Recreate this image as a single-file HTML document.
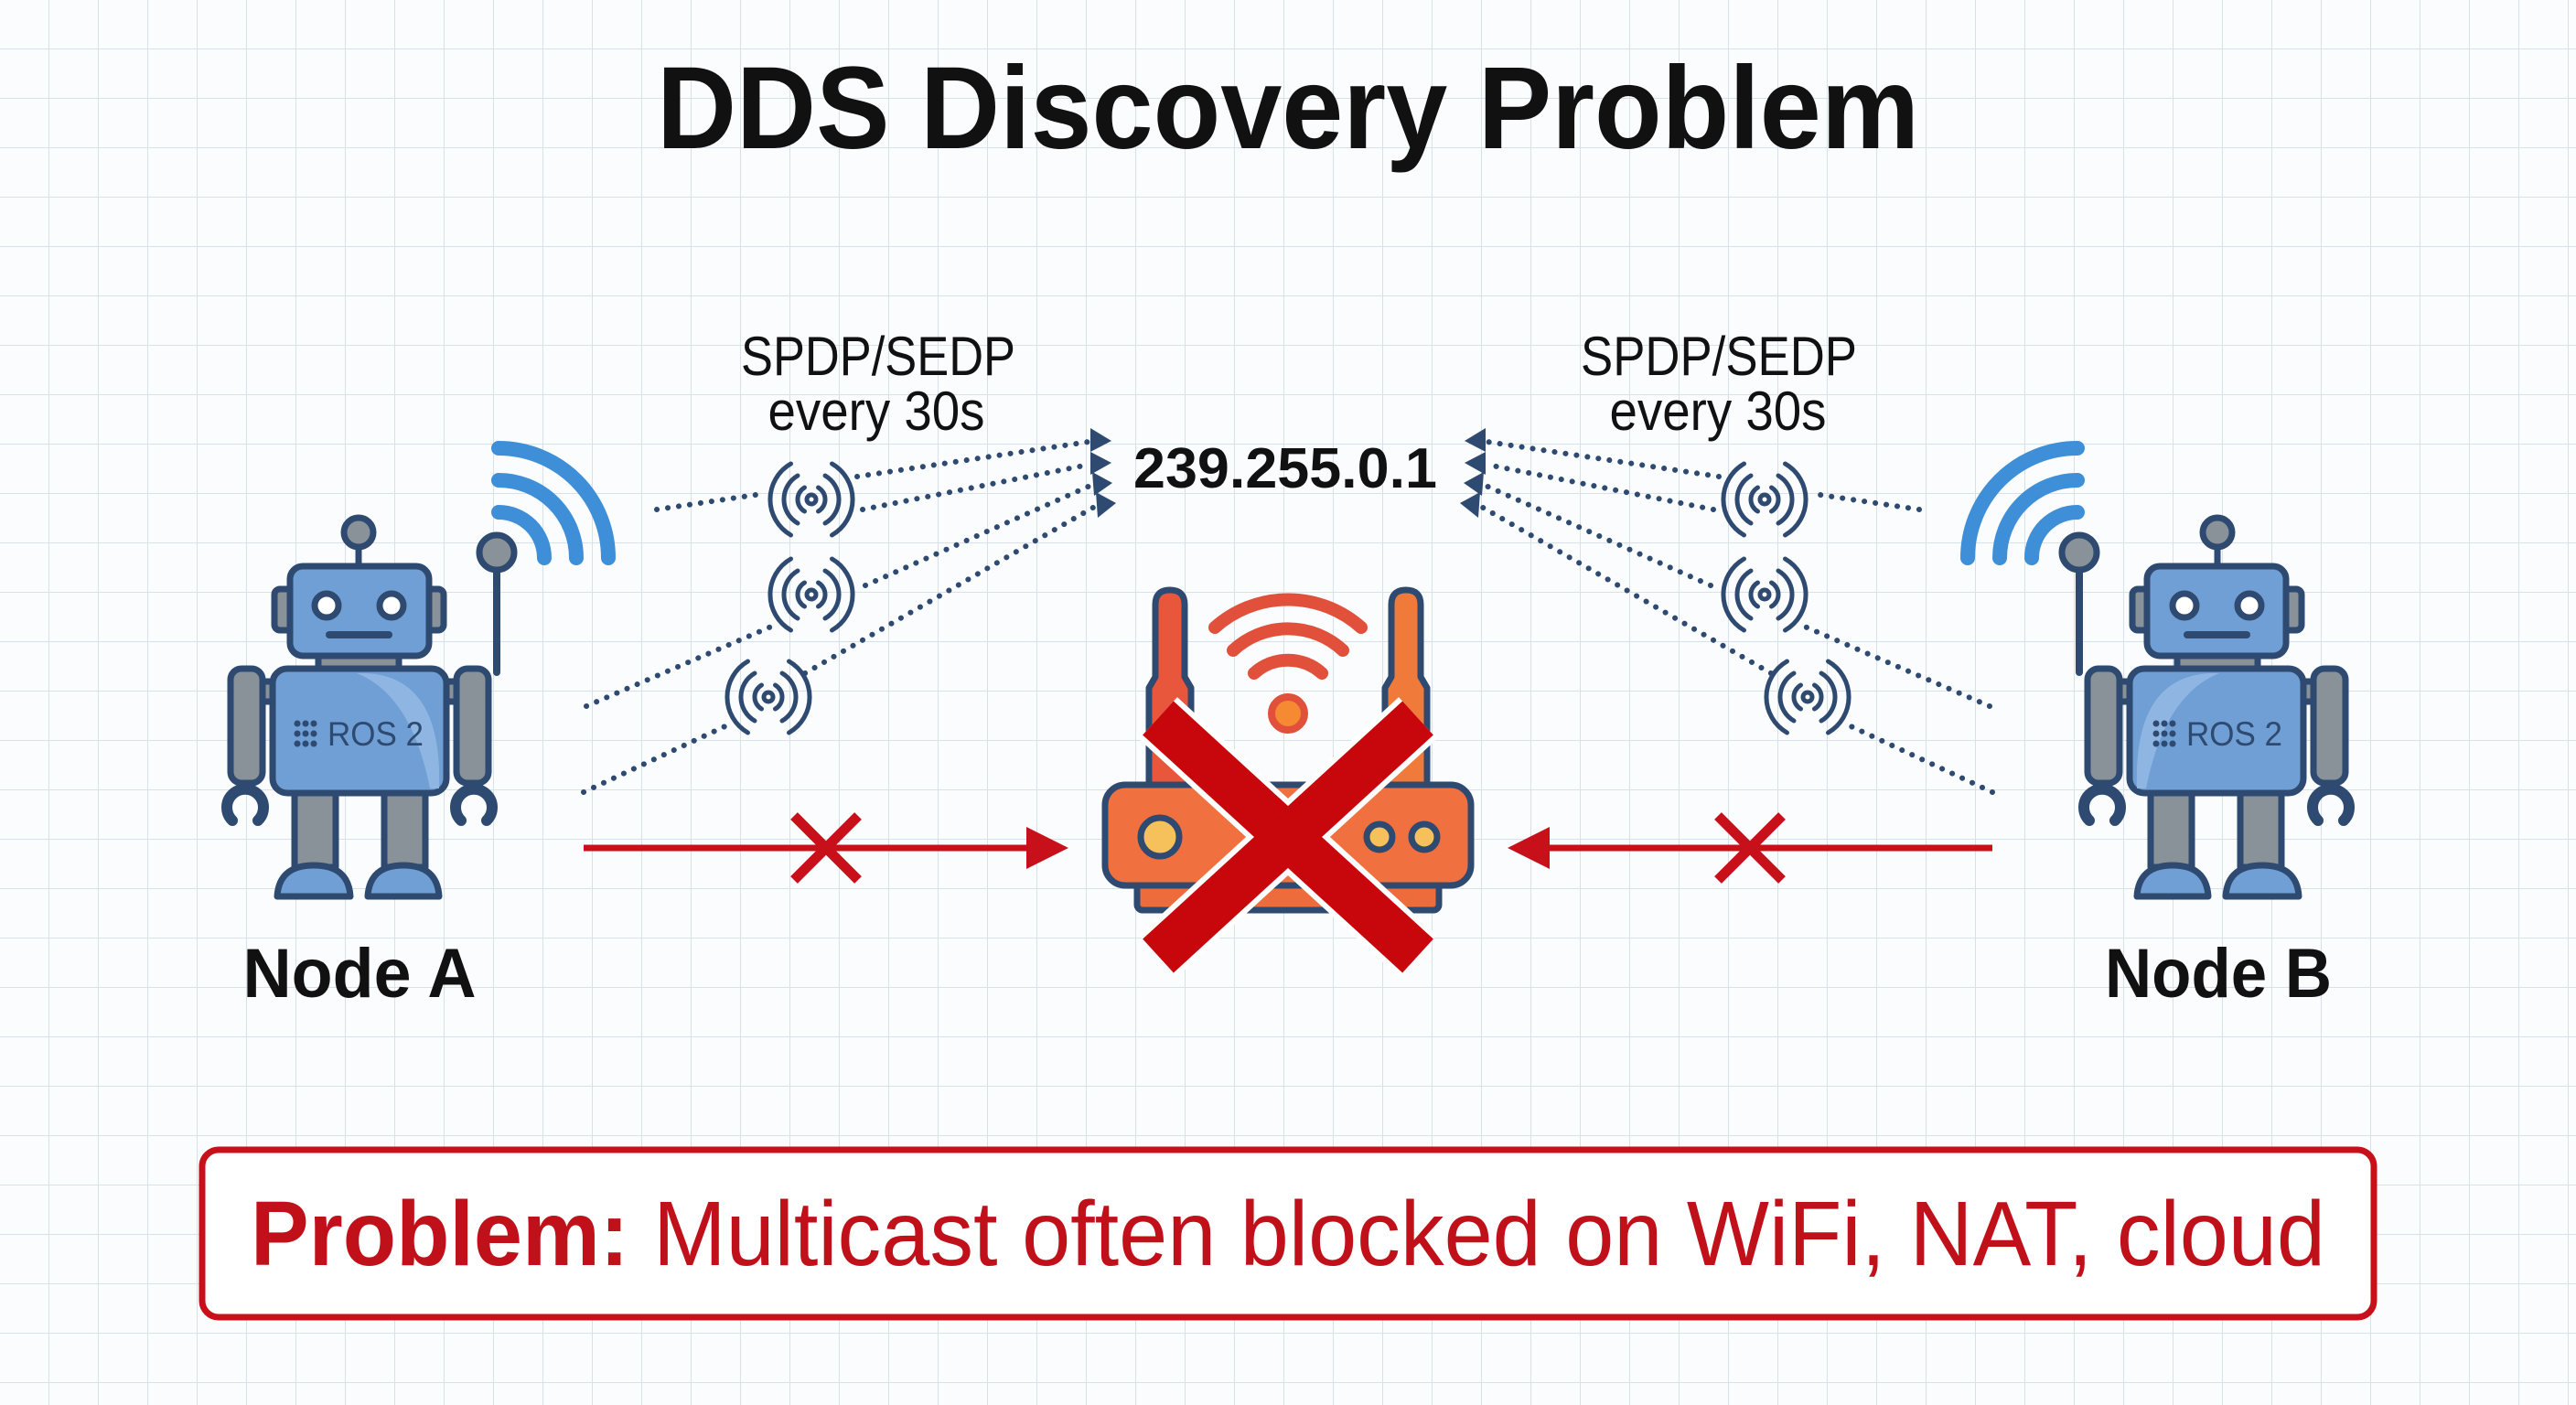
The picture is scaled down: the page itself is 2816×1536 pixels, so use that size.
<!DOCTYPE html>
<html><head><meta charset="utf-8"><style>
html,body{margin:0;padding:0;background:#fbfcfe;}
svg{display:block;}
text{font-family:"Liberation Sans",sans-serif;}
</style></head><body>
<svg width="2816" height="1536" viewBox="0 0 2816 1536" xmlns="http://www.w3.org/2000/svg">
<defs>
<pattern id="grid" width="54" height="54" patternUnits="userSpaceOnUse">
<path d="M54 0V54M0 54H54" fill="none" stroke="#d5e0f1" stroke-width="2"/>
</pattern>
<g id="robot" stroke="#2f4a70" stroke-width="7" stroke-linejoin="round">
  <line x1="392" y1="596" x2="392" y2="619"/>
  <circle cx="392" cy="582" r="16" fill="#8a9299"/>
  <rect x="300" y="644" width="22" height="45" rx="6" fill="#8a9299"/>
  <rect x="463" y="644" width="22" height="45" rx="6" fill="#8a9299"/>
  <rect x="317" y="619" width="152" height="98" rx="14" fill="#6f9fd4"/>
  <rect x="348" y="717" width="88" height="14" fill="#8a9299"/>
  <rect x="285" y="745" width="15" height="22" fill="#8a9299"/>
  <rect x="486" y="745" width="15" height="22" fill="#8a9299"/>
  <rect x="252" y="731" width="35" height="125" rx="12" fill="#8a9299"/>
  <rect x="499" y="731" width="35" height="125" rx="12" fill="#8a9299"/>
  <rect x="322" y="862" width="45" height="86" fill="#8a9299"/>
  <rect x="420" y="862" width="45" height="86" fill="#8a9299"/>
  <rect x="298" y="731" width="190" height="136" rx="16" fill="#6f9fd4"/>
  <path d="M390 736 Q450 760 470 862 L480 862 Q484 740 400 736Z" fill="#8fb6e2" stroke="none"/>
  <path d="M254 897 A20 20 0 1 1 282 897" fill="none" stroke-width="12" stroke-linecap="round"/>
  <path d="M504 897 A20 20 0 1 1 532 897" fill="none" stroke-width="12" stroke-linecap="round"/>
  <path d="M303 980 Q305 946 343 946 Q381 946 383 980Z" fill="#6f9fd4"/>
  <path d="M402 980 Q404 946 441 946 Q478 946 480 980Z" fill="#6f9fd4"/>
  <circle cx="357" cy="662" r="13" fill="#fff"/>
  <circle cx="428" cy="662" r="13" fill="#fff"/>
  <line x1="360" y1="694" x2="425" y2="694" stroke-width="8" stroke-linecap="round"/>
  <line x1="543" y1="620" x2="543" y2="735" stroke-width="8" stroke-linecap="round"/>
  <circle cx="543" cy="604" r="19" fill="#8a9299"/>
  <g fill="none" stroke="#3f8fd8" stroke-width="16" stroke-linecap="round">
    <path d="M545 560 A50 50 0 0 1 595 610"/>
    <path d="M545 525 A85 85 0 0 1 630 610"/>
    <path d="M545 490 A120 120 0 0 1 665 610"/>
  </g>
</g>
<g id="dots9" fill="#2f4a70">
  <circle cx="0" cy="0" r="3.5"/><circle cx="9" cy="0" r="3.5"/><circle cx="18" cy="0" r="3.5"/>
  <circle cx="0" cy="11" r="3.5"/><circle cx="9" cy="11" r="3.5"/><circle cx="18" cy="11" r="3.5"/>
  <circle cx="0" cy="22" r="3.5"/><circle cx="9" cy="22" r="3.5"/><circle cx="18" cy="22" r="3.5"/>
</g>
<g id="bc" fill="none" stroke="#2f4a70" stroke-width="5" stroke-linecap="round">
  <circle r="5"/>
  <path d="M-7.5 -13 A15 15 0 0 0 -7.5 13"/><path d="M7.5 -13 A15 15 0 0 1 7.5 13"/>
  <path d="M-15 -26 A30 30 0 0 0 -15 26"/><path d="M15 -26 A30 30 0 0 1 15 26"/>
  <path d="M-22.5 -39 A45 45 0 0 0 -22.5 39"/><path d="M22.5 -39 A45 45 0 0 1 22.5 39"/>
</g>
<g id="sig">
  <g fill="none" stroke="#2f4a70" stroke-width="6" stroke-linecap="round" stroke-dasharray="0.1 12">
    <line x1="718" y1="557" x2="826" y2="541"/>
    <line x1="937" y1="521" x2="1190" y2="483"/>
    <line x1="943" y1="557" x2="1190" y2="508"/>
    <line x1="946" y1="640" x2="1194" y2="530"/>
    <line x1="641" y1="772" x2="850" y2="682"/>
    <line x1="880" y1="736" x2="1200" y2="552"/>
    <line x1="638" y1="866" x2="797" y2="792"/>
  </g>
  <use href="#bc" x="887" y="546"/>
  <use href="#bc" x="887" y="650"/>
  <use href="#bc" x="840" y="762"/>
  <g fill="#2f4a70">
    <polygon points="1192,468 1215,482 1192,494"/>
    <polygon points="1192,494 1215,506 1192,519"/>
    <polygon points="1194,516 1216,528 1196,542"/>
    <polygon points="1198,538 1220,550 1200,566"/>
  </g>
  <line x1="638" y1="927" x2="1130" y2="927" stroke="#c8101a" stroke-width="7"/>
  <polygon points="1168,927 1122,904 1122,950" fill="#c8101a"/>
  <g stroke="#c8101a" stroke-width="11">
    <line x1="868" y1="892" x2="938" y2="962"/>
    <line x1="938" y1="892" x2="868" y2="962"/>
  </g>
</g>
</defs>
<rect width="2816" height="1536" fill="#fbfcfe"/>
<rect width="2816" height="1536" fill="url(#grid)"/>

<text x="1408" y="162" text-anchor="middle" font-size="128" font-weight="bold" fill="#111" textLength="1380" lengthAdjust="spacingAndGlyphs">DDS Discovery Problem</text>

<use href="#robot"/>
<use href="#robot" transform="translate(2816,0) scale(-1,1)"/>
<use href="#dots9" x="325" y="791"/>
<text x="358" y="815" font-size="37" fill="#2f4a70" textLength="105" lengthAdjust="spacingAndGlyphs">ROS 2</text>
<use href="#dots9" x="2357" y="791"/>
<text x="2390" y="815" font-size="37" fill="#2f4a70" textLength="105" lengthAdjust="spacingAndGlyphs">ROS 2</text>

<text x="393" y="1090" text-anchor="middle" font-size="76" font-weight="bold" fill="#111" textLength="255" lengthAdjust="spacingAndGlyphs">Node A</text>
<text x="2425" y="1090" text-anchor="middle" font-size="76" font-weight="bold" fill="#111" textLength="248" lengthAdjust="spacingAndGlyphs">Node B</text>

<use href="#sig"/>
<use href="#sig" transform="translate(2816,0) scale(-1,1)"/>

<text x="960" y="410" text-anchor="middle" font-size="60" fill="#111" textLength="300" lengthAdjust="spacingAndGlyphs">SPDP/SEDP</text>
<text x="958" y="470" text-anchor="middle" font-size="60" fill="#111" textLength="237" lengthAdjust="spacingAndGlyphs">every 30s</text>
<text x="1879" y="410" text-anchor="middle" font-size="60" fill="#111" textLength="302" lengthAdjust="spacingAndGlyphs">SPDP/SEDP</text>
<text x="1878" y="470" text-anchor="middle" font-size="60" fill="#111" textLength="237" lengthAdjust="spacingAndGlyphs">every 30s</text>
<text x="1405" y="533" text-anchor="middle" font-size="62" font-weight="bold" fill="#111" textLength="332" lengthAdjust="spacingAndGlyphs">239.255.0.1</text>

<!-- router -->
<g stroke="#2f4a70" stroke-width="7" stroke-linejoin="round">
  <path d="M1263 661 Q1263 645 1279 645 Q1295 645 1295 661 L1295 740 L1302 752 L1302 862 L1256 862 L1256 752 L1263 740Z" fill="#e8573c"/>
  <path d="M1521 661 Q1521 645 1537 645 Q1553 645 1553 661 L1553 740 L1560 752 L1560 862 L1514 862 L1514 752 L1521 740Z" fill="#f07a3a"/>
  <rect x="1243" y="955" width="330" height="40" rx="6" fill="#ee6b3c"/>
  <rect x="1208" y="858" width="400" height="110" rx="22" fill="#f0703f"/>
  <circle cx="1268" cy="915" r="21" fill="#f6c15a"/>
  <circle cx="1508" cy="915" r="14" fill="#f6c15a"/>
  <circle cx="1557" cy="915" r="14" fill="#f6c15a"/>
</g>
<circle cx="1408" cy="780" r="18" fill="#f58a32" stroke="#e0503a" stroke-width="8"/>
<g fill="none" stroke="#e0503a" stroke-width="14" stroke-linecap="round">
  <path d="M1371 736 A55 55 0 0 1 1445 736"/>
  <path d="M1348 711 A88 88 0 0 1 1468 711"/>
  <path d="M1328 686 A120 120 0 0 1 1488 686"/>
</g>
<g stroke-linecap="butt">
  <line x1="1266" y1="785" x2="1550" y2="1045" stroke="#fff" stroke-width="62"/>
  <line x1="1550" y1="785" x2="1266" y2="1045" stroke="#fff" stroke-width="62"/>
  <line x1="1266" y1="785" x2="1550" y2="1045" stroke="#c8070d" stroke-width="50"/>
  <line x1="1550" y1="785" x2="1266" y2="1045" stroke="#c8070d" stroke-width="50"/>
</g>

<rect x="221" y="1257" width="2374" height="183" rx="18" fill="#fff" stroke="#c8101a" stroke-width="7"/>
<text x="1408" y="1383" text-anchor="middle" font-size="100" fill="#c0101a" textLength="2268" lengthAdjust="spacingAndGlyphs"><tspan font-weight="bold">Problem:</tspan> Multicast often blocked on WiFi, NAT, cloud</text>
</svg>
</body></html>
